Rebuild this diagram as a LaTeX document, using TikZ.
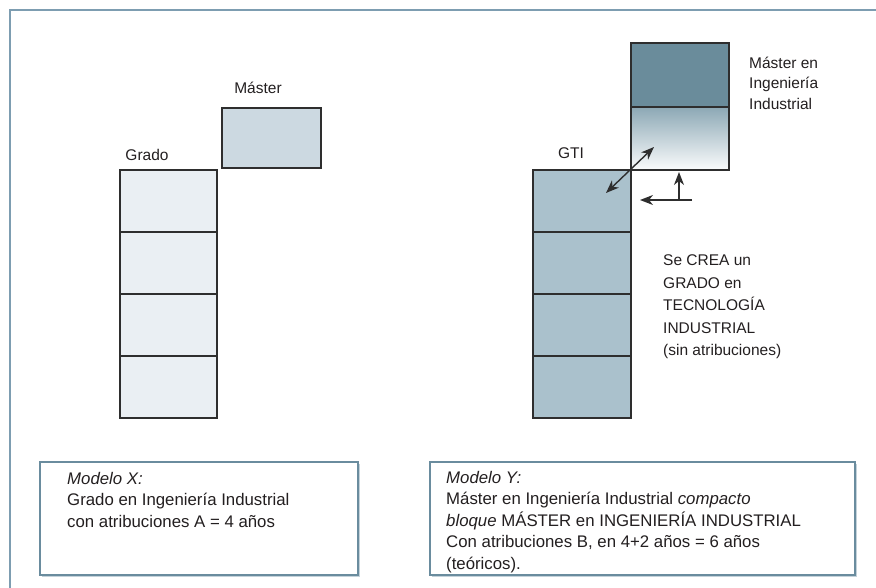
\documentclass[tikz,border=0pt]{standalone}
\usepackage{fontspec}
\setmainfont{Liberation Sans}
\usetikzlibrary{arrows.meta,shadows}
\definecolor{framecol}{HTML}{7D9DB1}
\definecolor{boxline}{HTML}{6A8C9E}
\definecolor{boxshadow}{HTML}{C4D2DA}
\definecolor{cellline}{HTML}{2E2E2E}
\definecolor{gradofill}{HTML}{EAEFF3}
\definecolor{masterfill}{HTML}{CCD9E1}
\definecolor{gtifill}{HTML}{AAC1CC}
\definecolor{masterdark}{HTML}{6A8C9B}
\definecolor{mastermid}{HTML}{8CA8B5}
\definecolor{textcol}{HTML}{231F20}
\tikzset{
  cell/.style={draw=cellline, line width=1.3pt, minimum width=97pt, minimum height=62pt, inner sep=0pt, outer sep=0pt},
  gradocell/.style={cell, fill=gradofill},
  gticell/.style={cell, fill=gtifill},
  lbl/.style={font=\fontsize{15.5}{20.5}\selectfont, inner sep=0pt, text=textcol, align=left},
  modeltext/.style={lbl, font=\fontsize{16.8}{21.5}\selectfont},
  modelbox/.style={draw=boxline, line width=2.5pt, fill=white, inner sep=0pt,
    drop shadow={shadow xshift=1.8pt, shadow yshift=-1.8pt, fill=boxshadow, opacity=1}},
  arr/.style={line width=1.4pt, draw=cellline, -{Stealth[length=13pt,width=10pt,inset=4pt]}},
  dblarr/.style={line width=1.4pt, draw=cellline, {Stealth[length=13pt,width=10pt,inset=4pt]}-{Stealth[length=13pt,width=10pt,inset=4pt]}}
}
\begin{document}
\begin{tikzpicture}[x=1pt,y=-1pt]
\useasboundingbox (0,0) rectangle (876,588);
% outer frame (top and left rules)
\draw[framecol, line width=1.6pt] (876,10) -- (10,10) -- (10,588);

% left column: Grado + Máster
\node[lbl, anchor=base] (lblmaster) at (258,93.5) {Máster};
\node[cell, fill=masterfill, minimum width=99pt, minimum height=60pt] (mx) at (271.5,138) {};
\node[lbl, anchor=base] (lblgrado) at (147,160.5) {Grado};
\node[gradocell] (g1) at (168.5,201) {};
\node[gradocell] (g2) at (168.5,263) {};
\node[gradocell] (g3) at (168.5,325) {};
\node[gradocell] (g4) at (168.5,387) {};

% right column: GTI + Máster en Ingeniería Industrial
\node[lbl, anchor=base] (lblgti) at (571,158.5) {GTI};
\node[gticell, minimum width=98pt] (t1) at (582,201) {};
\node[gticell, minimum width=98pt] (t2) at (582,263) {};
\node[gticell, minimum width=98pt] (t3) at (582,325) {};
\node[gticell, minimum width=98pt] (t4) at (582,387) {};
\node[cell, fill=masterdark, minimum width=98pt, minimum height=64pt] (mtop) at (680,75) {};
\node[cell, top color=mastermid, bottom color=white!96!mastermid, minimum width=98pt, minimum height=63pt] (mbot) at (680,138.5) {};

% multi-line labels: anchored at the baseline of their last line
\node[lbl, anchor=base west] (lblmii) at (749,109.5) {Máster en\\Ingeniería\\Industrial};
\node[lbl, anchor=base west, font=\fontsize{15.5}{22.5}\selectfont] (lblcrea) at (663,355.5)
  {Se CREA un\\GRADO en\\TECNOLOGÍA\\INDUSTRIAL\\(sin atribuciones)};

% connectors
\coordinate (dA) at (606,193);
\coordinate (dB) at (654,147);
\draw[dblarr] (dA) -- (dB);
\coordinate (upfrom) at (679,200);
\coordinate (upto) at (679,172);
\coordinate (lfrom) at (692,200);
\coordinate (lto) at (640,200);
\draw[arr] (upfrom) -- (upto);
\draw[arr] (lfrom) -- (lto);

% model boxes
\node[modelbox, minimum width=318pt, minimum height=113pt] (boxx) at (199,518.5) {};
\node[modelbox, minimum width=425pt, minimum height=113pt] (boxy) at (642.5,518.5) {};
\node[modeltext, anchor=base west] (txtx) at (67,527)
  {\textit{Modelo X:}\\Grado en Ingeniería Industrial\\con atribuciones A = 4 años};
\node[modeltext, anchor=base west] (txty) at (446,569)
  {\textit{Modelo Y:}\\Máster en Ingeniería Industrial \textit{compacto}\\\textit{bloque} MÁSTER en INGENIERÍA INDUSTRIAL\\Con atribuciones B, en 4+2 años = 6 años\\(teóricos).};
\end{tikzpicture}
\end{document}
